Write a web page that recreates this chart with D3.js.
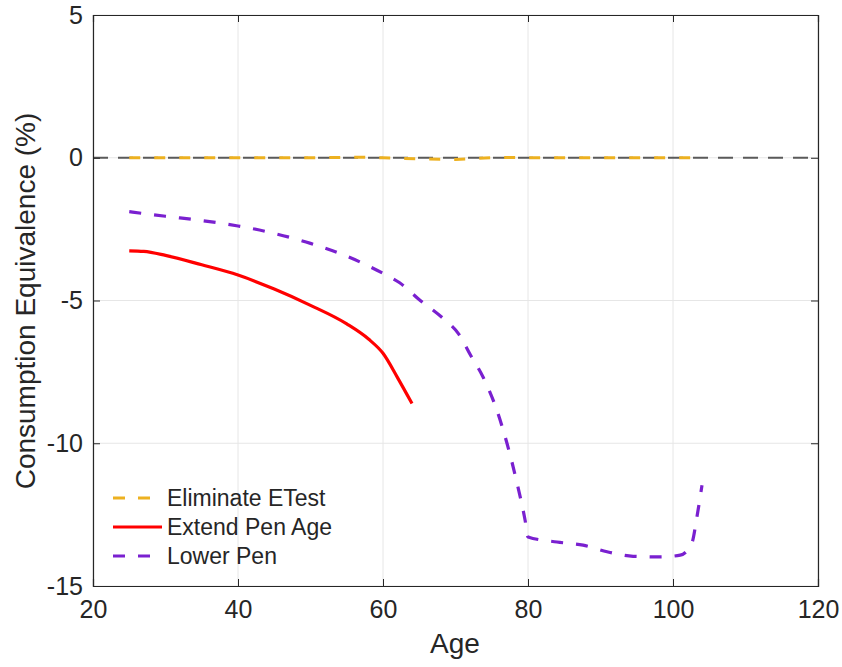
<!DOCTYPE html>
<html><head><meta charset="utf-8">
<script src="https://cdn.jsdelivr.net/npm/d3@7"></script>
<style>body{margin:0;background:#fff}svg{display:block}text{font-family:"Liberation Sans",Arial,Helvetica,sans-serif;fill:#262626}</style>
</head><body><svg id="c" width="842" height="667"></svg>
<script>
const xTicks = [20, 40, 60, 80, 100, 120];
const yTicks = [-15, -10, -5, 0, 5];
const seriesNames = ["Eliminate ETest", "Extend Pen Age", "Lower Pen"];

const etestAge = [25, 30, 35, 40, 45, 50, 55, 57, 60, 63, 65, 68, 70, 72, 74, 76, 80, 85, 90, 95, 100, 103];
const etestVal = [0, 0, 0, 0, 0, 0, 0.01, 0.02, 0, -0.03, -0.04, -0.05, -0.06, -0.04, -0.01, 0.01, 0, 0, 0, 0, 0, 0];

const extendAge = [25, 27, 30, 35, 40, 45, 50, 55, 58, 60, 62, 64];
const extendVal = [-3.26, -3.28, -3.42, -3.75, -4.11, -4.60, -5.17, -5.82, -6.35, -6.85, -7.70, -8.61];

const lowerAge = [25, 30, 35, 40, 45, 50, 55, 60, 62.3, 65.1, 68.3, 70.4, 72.2, 73.8, 75.7, 77.1, 78.4, 79.6, 80, 84, 87.6, 90.9, 94.5, 98.2, 101, 102.6, 103.3, 104];
const lowerVal = [-1.89, -2.05, -2.2, -2.39, -2.65, -3.0, -3.45, -4.05, -4.38, -4.99, -5.63, -6.16, -6.97, -7.68, -8.84, -10.0, -11.3, -12.7, -13.28, -13.46, -13.57, -13.8, -13.96, -13.98, -13.92, -13.5, -12.58, -11.47];

const svg = d3.select("#c");
const L = 93, R = 818, T = 15, B = 586;
const x = d3.scaleLinear().domain([20, 120]).range([L, R]);
const y = d3.scaleLinear().domain([-15, 5]).range([B, T]);

// grid
const g = svg.append("g");
g.selectAll("line.gx").data(xTicks).enter().append("line")
  .attr("x1", d => x(d)).attr("x2", d => x(d)).attr("y1", T).attr("y2", B)
  .attr("stroke", "#e6e6e6").attr("stroke-width", 1);
g.selectAll("line.gy").data(yTicks).enter().append("line")
  .attr("y1", d => y(d)).attr("y2", d => y(d)).attr("x1", L).attr("x2", R)
  .attr("stroke", "#e6e6e6").attr("stroke-width", 1);

// zero reference line
svg.append("line").attr("x1", x(20)).attr("x2", x(120)).attr("y1", y(0)).attr("y2", y(0))
  .attr("stroke", "#5a5a5a").attr("stroke-width", 2.2).attr("stroke-dasharray", "15,10");

// axes
const fmt = d => String(d);
const ax = svg.append("g").attr("transform", `translate(0,${B})`)
  .call(d3.axisBottom(x).tickValues(xTicks).tickSize(-7).tickPadding(14).tickFormat(fmt));
const axT = svg.append("g").attr("transform", `translate(0,${T})`)
  .call(d3.axisTop(x).tickValues(xTicks).tickSize(-7).tickFormat(""));
const ay = svg.append("g").attr("transform", `translate(${L},0)`)
  .call(d3.axisLeft(y).tickValues(yTicks).tickSize(-7).tickPadding(10).tickFormat(fmt));
const ayR = svg.append("g").attr("transform", `translate(${R},0)`)
  .call(d3.axisRight(y).tickValues(yTicks).tickSize(-7).tickFormat(""));
[ax, axT, ay, ayR].forEach(a => {
  a.select(".domain").attr("stroke", "#262626").attr("stroke-width", 1.2);
  a.selectAll(".tick line").attr("stroke", "#262626");
  a.selectAll("text").style("font-size", "25px").attr("fill", "#262626")
   .style("font-family", '"Liberation Sans",Arial,sans-serif');
});

const zip = (a, b) => a.map((v, i) => [v, b[i]]);
const smooth = d3.line().curve(d3.curveMonotoneX).x(d => x(d[0])).y(d => y(d[1]));
const straight = d3.line().x(d => x(d[0])).y(d => y(d[1]));

svg.append("path").datum(zip(etestAge, etestVal)).attr("d", straight)
  .attr("fill", "none").attr("stroke", "#EDB120").attr("stroke-width", 3).attr("stroke-dasharray", "11,14");
svg.append("path").datum(zip(extendAge, extendVal)).attr("d", smooth)
  .attr("fill", "none").attr("stroke", "#FF0000").attr("stroke-width", 3.2);
svg.append("path").datum(zip(lowerAge, lowerVal)).attr("d", smooth)
  .attr("fill", "none").attr("stroke", "#7A20D0").attr("stroke-width", 3.2).attr("stroke-dasharray", "12,13");

// axis labels
svg.append("text").attr("x", 455).attr("y", 653).attr("text-anchor", "middle")
  .style("font-size", "28px").text("Age");
svg.append("text").attr("transform", "translate(35,301) rotate(-90)").attr("text-anchor", "middle")
  .style("font-size", "28px").text("Consumption Equivalence (%)");

// legend
const colors = ["#EDB120", "#FF0000", "#7A20D0"];
const dashes = ["12,13", null, "12,13"];
const rowsY = [498, 527, 556];
const lg = svg.append("g");
seriesNames.forEach((n, i) => {
  lg.append("line").attr("x1", 113).attr("x2", 162).attr("y1", rowsY[i]).attr("y2", rowsY[i])
    .attr("stroke", colors[i]).attr("stroke-width", 3.2).attr("stroke-dasharray", dashes[i]);
  lg.append("text").attr("x", 167).attr("y", rowsY[i] + 8).style("font-size", "23px").text(n);
});
</script></body></html>
